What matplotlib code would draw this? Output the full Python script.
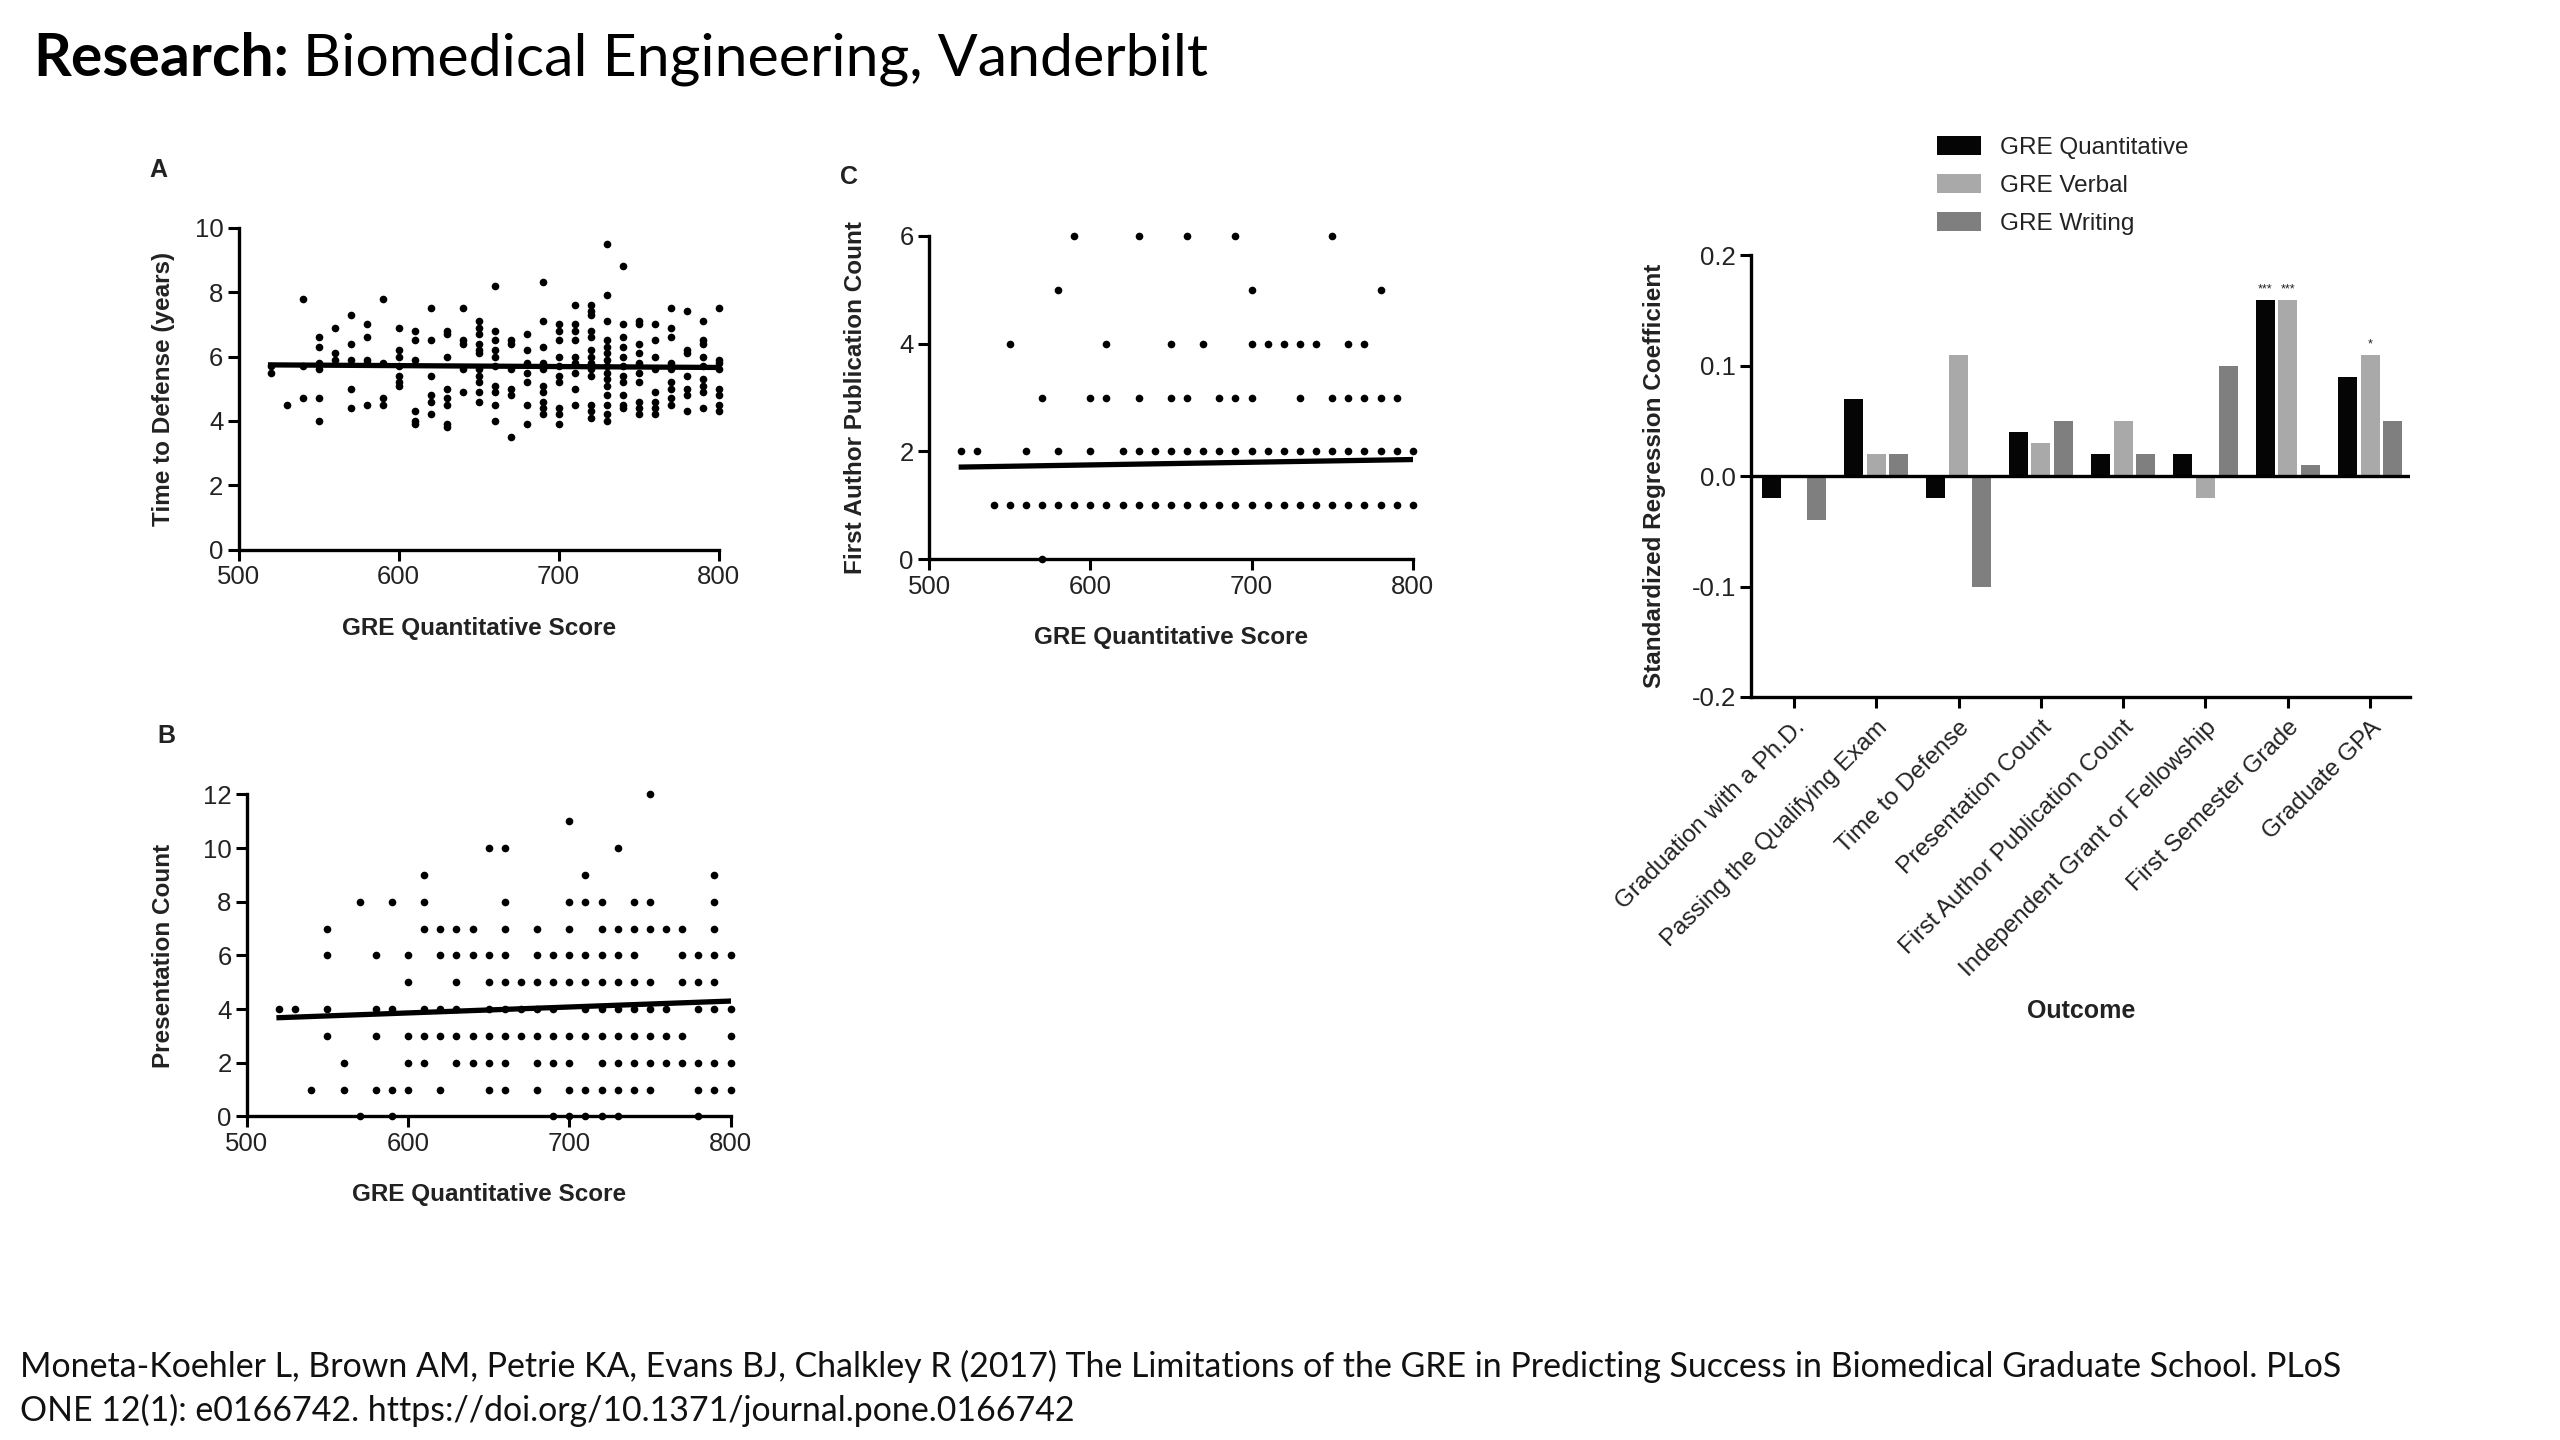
import numpy as np
import matplotlib.pyplot as plt

plt.rcParams['font.family'] = ['Liberation Sans', 'DejaVu Sans']
plt.rcParams['axes.unicode_minus'] = False

# ---- panel A: time to defense (years) per GRE-Q column
a_scores = [520, 530, 540, 550, 560, 570, 580, 590, 600, 610, 620, 630, 640, 650,
            660, 670, 680, 690, 700, 710, 720, 730, 740, 750, 760, 770, 780, 790, 800]
a_years = [
    [5.5, 5.7],
    [4.5],
    [7.8, 5.7, 4.7],
    [6.6, 6.3, 5.8, 5.6, 4.7, 4.0],
    [6.9, 6.1, 5.9],
    [7.3, 6.4, 5.9, 5.0, 4.4],
    [7.0, 6.6, 5.9, 5.8, 4.5],
    [7.8, 5.8, 4.7, 4.5],
    [6.9, 6.2, 6.0, 5.7, 5.4, 5.2, 5.1],
    [6.8, 6.5, 5.9, 4.3, 4.0, 3.9],
    [7.5, 6.5, 5.4, 4.8, 4.6, 4.2],
    [6.8, 6.7, 6.0, 5.0, 4.7, 4.5, 3.9, 3.8],
    [7.5, 6.5, 6.4, 5.6, 4.9],
    [7.1, 6.9, 6.7, 6.4, 6.2, 6.1, 5.6, 5.4, 5.2, 4.9, 4.6],
    [8.2, 6.8, 6.5, 6.2, 6.0, 5.7, 5.1, 4.9, 4.5, 4.0],
    [6.5, 6.4, 5.6, 5.0, 4.8, 3.5],
    [6.7, 6.2, 5.8, 5.5, 5.2, 4.5, 3.9],
    [8.3, 7.1, 6.3, 5.8, 5.6, 5.1, 4.9, 4.6, 4.4, 4.2],
    [7.0, 6.8, 6.5, 6.0, 5.7, 5.4, 5.2, 4.4, 4.2, 3.9],
    [7.6, 7.0, 6.8, 6.5, 6.0, 5.8, 5.5, 5.0, 4.5],
    [7.6, 7.4, 7.3, 6.8, 6.6, 6.2, 6.0, 5.8, 5.6, 5.4, 4.5, 4.3, 4.1],
    [9.5, 7.9, 7.1, 6.5, 6.3, 6.1, 5.9, 5.7, 5.5, 5.3, 5.1, 4.8, 4.5, 4.2, 4.0],
    [8.8, 7.0, 6.6, 6.3, 6.0, 5.7, 5.4, 5.2, 4.8, 4.5, 4.4],
    [7.1, 7.0, 6.4, 6.1, 5.8, 5.5, 5.2, 4.6, 4.4, 4.2],
    [7.0, 6.5, 6.0, 5.6, 4.9, 4.6, 4.4, 4.2],
    [7.5, 6.9, 6.6, 5.8, 5.6, 5.2, 5.0, 4.7, 4.5],
    [7.4, 6.2, 6.1, 5.4, 5.0, 4.8, 4.3],
    [7.1, 6.5, 6.4, 6.0, 5.7, 5.3, 5.1, 4.9, 4.4],
    [7.5, 5.9, 5.8, 5.6, 5.0, 4.8, 4.5, 4.3],
]
a_fit_x = [520, 800]
a_fit_y = [5.74, 5.66]

# ---- panel B: presentation count, GRE-Q scores at each count level
b_levels = [12, 11, 10, 9, 8, 7, 6, 5, 4, 3, 2, 1, 0]
b_scores = [
    [750],
    [700],
    [650, 660, 730],
    [610, 710, 790],
    [570, 590, 610, 660, 700, 710, 720, 740, 750, 790],
    [550, 610, 620, 630, 640, 660, 680, 700, 720, 730, 740, 750, 760, 770, 790],
    [550, 580, 600, 620, 630, 640, 650, 660, 680, 690, 700, 710, 720, 730, 740,
     770, 780, 790, 800],
    [600, 630, 650, 660, 670, 680, 690, 700, 710, 720, 730, 740, 750, 770, 780, 790],
    [520, 530, 550, 580, 590, 610, 620, 630, 650, 660, 670, 680, 690, 710, 720,
     730, 740, 750, 760, 780, 790, 800],
    [550, 580, 600, 610, 620, 630, 640, 650, 660, 670, 680, 690, 700, 710, 720,
     730, 740, 750, 760, 770, 800],
    [560, 600, 610, 630, 640, 650, 660, 680, 690, 700, 720, 730, 740, 750, 760,
     770, 780, 790, 800],
    [540, 560, 580, 590, 600, 620, 650, 660, 680, 700, 710, 720, 730, 740, 750,
     780, 790, 800],
    [570, 590, 690, 700, 710, 720, 730, 780],
]
b_fit_x = [520, 800]
b_fit_y = [3.68, 4.30]

# ---- panel C: first author publication count
c_levels = [6, 5, 4, 3, 2, 1, 0]
c_scores = [
    [590, 630, 660, 690, 750],
    [580, 700, 780],
    [550, 610, 650, 670, 700, 710, 720, 730, 740, 760, 770],
    [570, 600, 610, 630, 650, 660, 680, 690, 700, 730, 750, 760, 770, 780, 790],
    [520, 530, 560, 580, 600, 620, 630, 640, 650, 660, 670, 680, 690, 700, 710,
     720, 730, 740, 750, 760, 770, 780, 790, 800],
    [540, 550, 560, 570, 580, 590, 600, 610, 620, 630, 640, 650, 660, 670, 680,
     690, 700, 710, 720, 730, 740, 750, 760, 770, 780, 790, 800],
    [570],
]
c_fit_x = [520, 800]
c_fit_y = [1.71, 1.85]

# ---- bar chart
outcomes = ['Graduation with a Ph.D.', 'Passing the Qualifying Exam', 'Time to Defense',
            'Presentation Count', 'First Author Publication Count',
            'Independent Grant or Fellowship', 'First Semester Grade', 'Graduate GPA']
quant = [-0.02, 0.07, -0.02, 0.04, 0.02, 0.02, 0.16, 0.09]
verbal = [0.0, 0.02, 0.11, 0.03, 0.05, -0.02, 0.16, 0.11]
writing = [-0.04, 0.02, -0.10, 0.05, 0.02, 0.10, 0.01, 0.05]
quant_sig = ['', '', '', '', '', '', '***', '']
verbal_sig = ['', '', '', '', '', '', '***', '*']

TXT = '#222222'


def prism(ax):
    for s in ['top', 'right']:
        ax.spines[s].set_visible(False)
    for s in ['left', 'bottom']:
        ax.spines[s].set_linewidth(2.4)
    ax.tick_params(direction='out', length=8, width=2.2, labelsize=18.5,
                   labelcolor=TXT, pad=3)


def scatter_panel(rect, xs, ys, fx, fy, ylim, yticks, ylabel, letter, ylab_x):
    ax = fig.add_axes(rect)
    ax.plot(xs, ys, 'o', color='black', ms=5.5, mec='none', clip_on=False, zorder=3)
    ax.plot(fx, fy, color='black', lw=3.8, zorder=4)
    ax.set_xlim(500, 800)
    ax.set_ylim(*ylim)
    ax.set_xticks([500, 600, 700, 800])
    ax.set_yticks(yticks)
    ax.set_xlabel('GRE Quantitative Score', fontsize=17.5, fontweight='bold',
                  color=TXT, labelpad=20)
    ax.set_ylabel(ylabel, fontsize=17.5, fontweight='bold', color=TXT)
    ax.yaxis.set_label_coords(ylab_x, 0.5)
    prism(ax)
    ax.text(-0.185, 1.18, letter, transform=ax.transAxes, fontsize=18,
            fontweight='bold', color=TXT, va='center')
    return ax


fig = plt.figure(figsize=(25.6, 14.4), dpi=100)

# panel A
ax_x, ax_y = [], []
for s, vals in zip(a_scores, a_years):
    ax_x += [s] * len(vals)
    ax_y += vals
ax_a = scatter_panel([0.0932, 0.6182, 0.1875, 0.2237], ax_x, ax_y, a_fit_x, a_fit_y,
                     (0, 10), [0, 2, 4, 6, 8, 10], 'Time to Defense (years)', 'A', -0.133)

# panel B
bx, by = [], []
for lvl, sc in zip(b_levels, b_scores):
    bx += sc
    by += [lvl] * len(sc)
scatter_panel([0.0964, 0.2247, 0.189, 0.2236], bx, by, b_fit_x, b_fit_y,
              (0, 12), [0, 2, 4, 6, 8, 10, 12], 'Presentation Count', 'B', -0.148)

# panel C
cx, cy = [], []
for lvl, sc in zip(c_levels, c_scores):
    cx += sc
    cy += [lvl] * len(sc)
scatter_panel([0.3629, 0.6116, 0.189, 0.2247], cx, cy, c_fit_x, c_fit_y,
              (0, 6), [0, 2, 4, 6], 'First Author Publication Count', 'C', -0.129)

# bar chart
bx_ax = fig.add_axes([0.684, 0.516, 0.2576, 0.3066])
pos = np.arange(len(outcomes))
w = 0.23
off = 0.275
b1 = bx_ax.bar(pos - off, quant, w, color='#050505', label='GRE Quantitative')
b2 = bx_ax.bar(pos, verbal, w, color='#a9a9a9', label='GRE Verbal')
b3 = bx_ax.bar(pos + off, writing, w, color='#7f7f7f', label='GRE Writing')
for p, v, s in zip(pos - off, quant, quant_sig):
    if s:
        bx_ax.text(p, v + 0.004, s, ha='center', va='bottom', fontsize=9, color=TXT)
for p, v, s in zip(pos, verbal, verbal_sig):
    if s:
        bx_ax.text(p, v + 0.004, s, ha='center', va='bottom', fontsize=9, color=TXT)
bx_ax.axhline(0, color='black', lw=2.4)
bx_ax.set_xlim(-0.52, 7.49)
bx_ax.set_ylim(-0.2, 0.2)
bx_ax.set_yticks([-0.2, -0.1, 0.0, 0.1, 0.2])
bx_ax.set_yticklabels(['-0.2', '-0.1', '0.0', '0.1', '0.2'])
bx_ax.set_xticks(pos)
bx_ax.set_xticklabels(outcomes, rotation=45, ha='right', rotation_mode='anchor')
prism(bx_ax)
bx_ax.tick_params(axis='x', labelsize=17.5, pad=6)
bx_ax.set_ylabel('Standardized Regression Coefficient', fontsize=17.5,
                 fontweight='bold', color=TXT, labelpad=18)
bx_ax.set_xlabel('Outcome', fontsize=18, fontweight='bold', color=TXT, labelpad=13)
fig.legend(handles=[b1, b2, b3], loc='upper left', bbox_to_anchor=(0.748, 0.921),
           frameon=False, fontsize=17.5, handlelength=1.8, handleheight=0.85,
           labelspacing=0.62, handletextpad=0.8, labelcolor=TXT)

# slide title and citation
t1 = fig.text(0.013, 0.959, 'Research:', fontsize=42.5, fontweight='bold',
              family=['Lato', 'DejaVu Sans'], va='center')
ax_a.annotate('Biomedical Engineering, Vanderbilt', xy=(1, 0.5), xycoords=t1,
              xytext=(10, 0), textcoords='offset points', fontsize=42.5,
              family=['Lato', 'DejaVu Sans'], va='center', annotation_clip=False)
fig.text(0.008, 0.0514,
         'Moneta-Koehler L, Brown AM, Petrie KA, Evans BJ, Chalkley R (2017) The Limitations '
         'of the GRE in Predicting Success in Biomedical Graduate School. PLoS',
         fontsize=24.4, family=['Lato', 'DejaVu Sans'], va='center', color='#111111')
fig.text(0.008, 0.0206, 'ONE 12(1): e0166742. https://doi.org/10.1371/journal.pone.0166742',
         fontsize=24.4, family=['Lato', 'DejaVu Sans'], va='center', color='#111111')

fig.savefig('out.png', dpi=100, facecolor='white')
